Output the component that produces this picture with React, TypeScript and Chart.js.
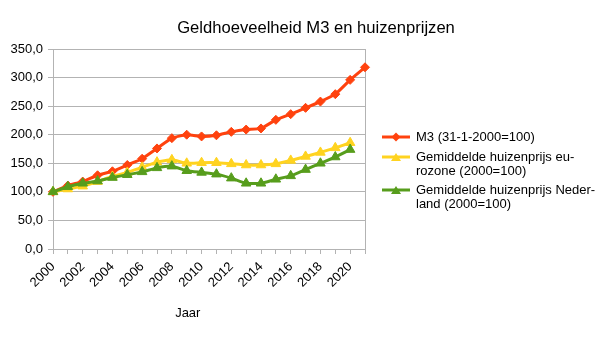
import React, { useEffect, useRef } from "react";
import { Chart, registerables } from "chart.js";

Chart.register(...registerables);

const years = [
  "2000", "2001", "2002", "2003", "2004", "2005", "2006", "2007", "2008", "2009", "2010",
  "2011", "2012", "2013", "2014", "2015", "2016", "2017", "2018", "2019", "2020", "2021",
];
const m3 = [100, 111, 118, 129, 136, 147, 158, 176, 194, 200, 197, 199, 205, 209, 211, 226, 236, 247, 258, 271, 296, 318];
const euroZone = [100, 105, 110, 118, 127, 134, 143, 152, 156, 150, 151, 151, 149, 147, 147, 149, 155, 162, 169, 177, 186];
const netherlands = [100, 109, 115, 119, 125, 130, 135, 142, 145, 137, 134, 131, 124, 115, 115, 122, 128, 139, 150, 161, 174];
const yTicks = [0, 50, 100, 150, 200, 250, 300, 350];

const seriesNames = [
  ["M3 (31-1-2000=100)"],
  ["Gemiddelde huizenprijs eu-", "rozone (2000=100)"],
  ["Gemiddelde huizenprijs Neder-", "land (2000=100)"],
];
const axisTitle = "Jaar";
const chartTitle = "Geldhoeveelheid M3 en huizenprijzen";

const RED = "#ff420e";
const YELLOW = "#ffd320";
const GREEN = "#579d1c";
const GRID = "#b3b3b3";
const FONT = "'Liberation Sans', Arial, sans-serif";

function drawMarker(ctx: CanvasRenderingContext2D, style: string, x: number, y: number, r: number, color: string) {
  ctx.save();
  ctx.fillStyle = color;
  ctx.beginPath();
  if (style === "diamond") {
    ctx.moveTo(x, y - r);
    ctx.lineTo(x + r, y);
    ctx.lineTo(x, y + r);
    ctx.lineTo(x - r, y);
  } else {
    const h = r * 1.6;
    ctx.moveTo(x, y - h / 2);
    ctx.lineTo(x + r, y + h / 2);
    ctx.lineTo(x - r, y + h / 2);
  }
  ctx.closePath();
  ctx.fill();
  ctx.restore();
}

const extrasPlugin = {
  id: "extras",
  afterDraw(chart: any) {
    const { ctx, chartArea } = chart;
    const colors = [RED, YELLOW, GREEN];
    const styles = ["diamond", "triangle", "triangle"];
    const offsets = [88, 108, 141];
    const lineH = 14.5;
    ctx.save();
    // title
    ctx.fillStyle = "#000";
    ctx.font = `16.6px ${FONT}`;
    ctx.textAlign = "center";
    ctx.textBaseline = "middle";
    ctx.fillText(chartTitle, (chart.width + 28) / 2, chartArea.top - 21);
    // legend
    ctx.font = `13px ${FONT}`;
    ctx.textAlign = "left";
    seriesNames.forEach((lines, i) => {
      const y = chartArea.top + offsets[i];
      const x0 = chartArea.right + 17;
      ctx.strokeStyle = colors[i];
      ctx.lineWidth = 3;
      ctx.beginPath();
      ctx.moveTo(x0, y);
      ctx.lineTo(x0 + 28, y);
      ctx.stroke();
      drawMarker(ctx, styles[i], x0 + 14, y, styles[i] === "diamond" ? 4.5 : 5, colors[i]);
      ctx.fillStyle = "#000";
      lines.forEach((t, j) => ctx.fillText(t, x0 + 34, y + j * lineH));
    });
    // x axis title
    ctx.textAlign = "center";
    ctx.fillText(axisTitle, chartArea.left + (chartArea.right - chartArea.left) * 0.432, chartArea.bottom + 64);
    ctx.restore();
  },
};

export default function App() {
  const ref = useRef<HTMLCanvasElement>(null);
  useEffect(() => {
    document.body.style.margin = "0";
    const common = {
      fill: false,
      borderWidth: 3,
      tension: 0.15,
      pointBorderWidth: 1,
      clip: false as any,
    };
    const chart = new Chart(ref.current!, {
      type: "line",
      data: {
        labels: years,
        datasets: [
          {
            ...common,
            label: seriesNames[0].join(" "),
            data: m3,
            borderColor: RED,
            backgroundColor: RED,
            pointStyle: "rectRot",
            pointRadius: 4.5,
            order: 3,
          },
          {
            ...common,
            label: seriesNames[1].join(" "),
            data: euroZone,
            borderColor: YELLOW,
            backgroundColor: YELLOW,
            pointStyle: "triangle",
            pointRadius: 5.5,
            order: 2,
          },
          {
            ...common,
            label: seriesNames[2].join(" "),
            data: netherlands,
            borderColor: GREEN,
            backgroundColor: GREEN,
            pointStyle: "triangle",
            pointRadius: 5.5,
            order: 1,
          },
        ],
      },
      options: {
        animation: false,
        responsive: false,
        layout: { padding: { left: 0, right: 0, top: 49, bottom: 31 } },
        plugins: {
          legend: { display: false },
          tooltip: { enabled: false },
          title: { display: false },
        },
        scales: {
          x: {
            offset: false,
            grid: { display: true, drawOnChartArea: false, drawTicks: true, tickLength: 5, color: GRID },
            border: { display: true, color: GRID },
            ticks: {
              autoSkip: false,
              maxRotation: 45,
              minRotation: 45,
              padding: 5,
              color: "#000",
              font: { family: FONT, size: 13 },
              callback: (_v: any, i: number) => (i % 2 === 0 ? years[i] : ""),
            },
            afterFit: (s: any) => {
              s.height = 60;
            },
          },
          y: {
            min: 0,
            max: 350,
            grid: { color: GRID, tickLength: 5 },
            border: { display: true, color: GRID },
            afterBuildTicks: (s: any) => {
              s.ticks = yTicks.map((v) => ({ value: v }));
            },
            ticks: {
              padding: 5,
              color: "#000",
              font: { family: FONT, size: 13 },
              callback: (v: any) => Number(v).toFixed(1).replace(".", ","),
            },
            afterFit: (s: any) => {
              s.width = 53;
            },
          },
          y2: {
            position: "right",
            min: 0,
            max: 350,
            grid: { display: false },
            border: { display: true, color: GRID },
            ticks: { display: false },
            afterFit: (s: any) => {
              s.width = 239;
            },
          },
        },
      },
      plugins: [extrasPlugin],
    });
    return () => chart.destroy();
  }, []);
  return <canvas ref={ref} width={604} height={340} style={{ display: "block" }} />;
}
